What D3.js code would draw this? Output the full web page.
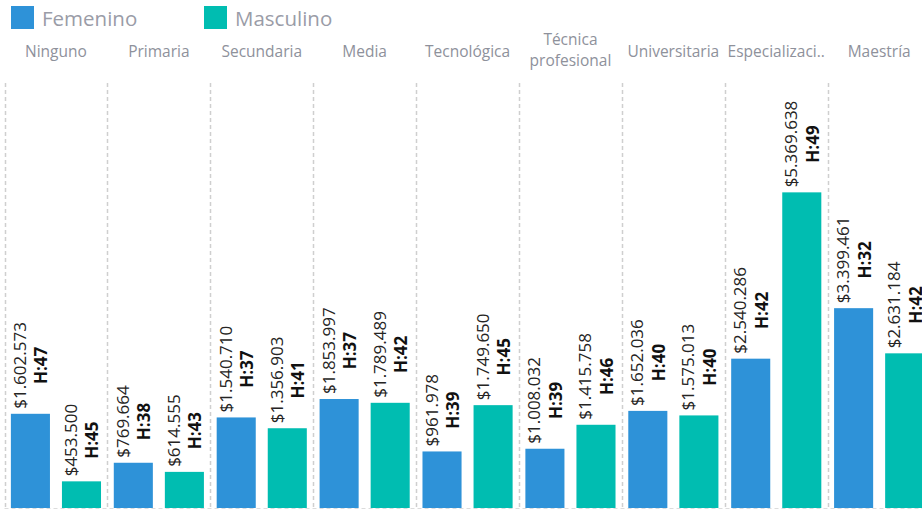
<!DOCTYPE html>
<html>
<head>
<meta charset="utf-8">
<script src="https://cdn.jsdelivr.net/npm/d3@7"></script>
<style>
  body { margin: 0; background: #fff; overflow: hidden; }
  text { font-family: "Open Sans", sans-serif; }
</style>
</head>
<body>
<div id="chart"></div>
<script>
var niveles = ["Ninguno", "Primaria", "Secundaria", "Media", "Tecnológica", "Técnica profesional", "Universitaria", "Especialización", "Maestría"];
var etiquetas = [["Ninguno"], ["Primaria"], ["Secundaria"], ["Media"], ["Tecnológica"], ["Técnica", "profesional"], ["Universitaria"], ["Especializaci.."], ["Maestría"]];
var sexos = ["Femenino", "Masculino"];
var femenino = [1602573, 769664, 1540710, 1853997, 961978, 1008032, 1652036, 2540286, 3399461];
var masculino = [453500, 614555, 1356903, 1789489, 1749650, 1415758, 1575013, 5369638, 2631184];
var horasF = [47, 38, 37, 37, 39, 39, 40, 42, 32];
var horasM = [45, 43, 41, 42, 45, 46, 40, 49, 42];

var width = 922;
var height = 510;
var colores = {"Femenino": "#2e92d8", "Masculino": "#00bdb1"};

var svg = d3.select("#chart")
  .append("svg")
    .attr("width", width)
    .attr("height", height);

// legend
var leyenda = svg.append("g");
sexos.forEach(function(s, i) {
  var lx = [11, 204][i];
  leyenda.append("rect")
    .attr("x", lx).attr("y", 6)
    .attr("width", 23).attr("height", 23)
    .attr("fill", colores[s]);
  leyenda.append("text")
    .attr("x", lx + 31).attr("y", 26)
    .attr("font-size", "20.5px")
    .attr("fill", "#9a9ca7")
    .text(s);
});

var x0 = d3.scaleBand()
  .domain(niveles)
  .range([4.5, 4.5 + 9 * 102.9])
  .padding(0);

var x1 = d3.scaleBand()
  .domain(sexos)
  .range([0, x0.bandwidth()])
  .paddingInner(0.235)
  .paddingOuter(0.125);

var y = d3.scaleLinear()
  .domain([0, 7230000])
  .range([508, 83]);

// separators
svg.append("g")
  .selectAll("line")
  .data(niveles)
  .enter()
  .append("line")
    .attr("x1", function(d) { return Math.round(x0(d)) + 0.5 })
    .attr("x2", function(d) { return Math.round(x0(d)) + 0.5 })
    .attr("y1", y.range()[1])
    .attr("y2", y(0))
    .attr("stroke", "#cfcfcf")
    .attr("stroke-width", 1.5)
    .attr("stroke-dasharray", "4,3");

svg.append("line")
  .attr("x1", x0.range()[0]).attr("x2", width)
  .attr("y1", y(0) + 0.5).attr("y2", y(0) + 0.5)
  .attr("stroke", "#dcdcdc")
  .attr("stroke-dasharray", "4,3");

// category headers
etiquetas.forEach(function(lineas, i) {
  var cx = x0(niveles[i]) + x0.bandwidth() / 2;
  var ys = lineas.length == 1 ? [57] : [45, 66];
  lineas.forEach(function(l, j) {
    svg.append("text")
      .attr("x", cx)
      .attr("y", ys[j])
      .attr("text-anchor", "middle")
      .attr("font-size", "15.5px")
      .attr("fill", "#8e919b")
      .text(l);
  });
});

var datos = [];
niveles.forEach(function(n, i) {
  datos.push({nivel: n, sexo: "Femenino", valor: femenino[i], horas: horasF[i]});
  datos.push({nivel: n, sexo: "Masculino", valor: masculino[i], horas: horasM[i]});
});

var formato = function(v) { return "$" + d3.format(",")(v).replace(/,/g, ".") };

svg.append("g")
  .selectAll("rect")
  .data(datos)
  .enter()
  .append("rect")
    .attr("x", function(d) { return x0(d.nivel) + x1(d.sexo) })
    .attr("y", function(d) { return y(d.valor) })
    .attr("width", x1.bandwidth())
    .attr("height", function(d) { return y(0) - y(d.valor) })
    .attr("fill", function(d) { return colores[d.sexo] });

// rotated labels
var grupos = svg.append("g")
  .selectAll("g")
  .data(datos)
  .enter()
  .append("g")
    .attr("transform", function(d) {
      var cx = x0(d.nivel) + x1(d.sexo) + x1.bandwidth() / 2;
      return "translate(" + cx + "," + (y(d.valor) - 5) + ") rotate(-90)";
    });

grupos.append("text")
  .attr("class", "valor")
  .attr("x", 0)
  .attr("y", -4.5)
  .attr("font-size", "17px")
  .attr("fill", "#252423")
  .text(function(d) { return formato(d.valor) });

grupos.each(function(d) {
  var g = d3.select(this);
  var len = g.select("text.valor").node().getComputedTextLength();
  g.append("text")
    .attr("x", len / 2)
    .attr("y", 17)
    .attr("text-anchor", "middle")
    .attr("font-size", "17px")
    .attr("font-weight", "bold")
    .attr("fill", "#111")
    .text("H:" + d.horas);
});
</script>
</body>
</html>
